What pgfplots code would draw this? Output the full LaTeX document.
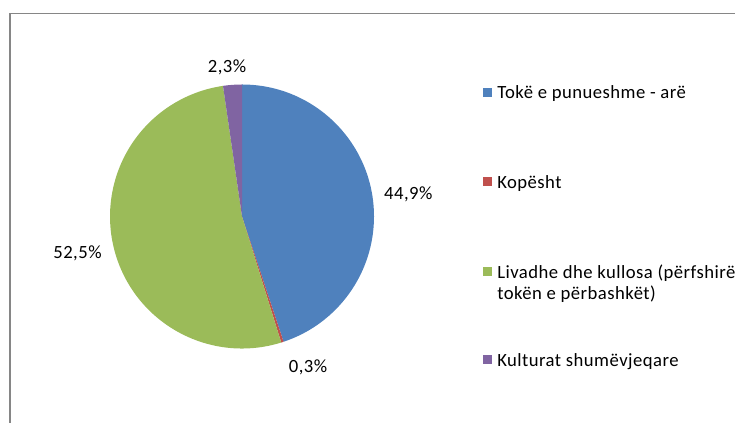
\documentclass[border=0pt]{standalone}
\usepackage{pgfplots}
\pgfplotsset{compat=1.18}
\usepackage{pgfplotstable}
\usepackage{fontspec}
\setmainfont{Carlito}[LetterSpace=2.5]

\definecolor{pieblue}{HTML}{4F81BD}
\definecolor{piered}{HTML}{C0504D}
\definecolor{piegreen}{HTML}{9BBB59}
\definecolor{piepurple}{HTML}{8064A2}
\definecolor{framegray}{HTML}{868686}

\pgfplotstableread{
label value
Toke 44.9
Kopesht 0.3
Livadhe 52.5
Kultura 2.3
}\piedata

\begin{document}
\begin{tikzpicture}
\fontsize{14}{16.3}\selectfont

% slice angles, clockwise from the top
\pgfplotstablegetelem{0}{value}\of\piedata \let\vA\pgfplotsretval
\pgfplotstablegetelem{1}{value}\of\piedata \let\vB\pgfplotsretval
\pgfplotstablegetelem{2}{value}\of\piedata \let\vC\pgfplotsretval
\pgfplotstablegetelem{3}{value}\of\piedata \let\vD\pgfplotsretval
\pgfmathsetmacro\aA{90}
\pgfmathsetmacro\aB{\aA-3.6*\vA}
\pgfmathsetmacro\aC{\aB-3.6*\vB}
\pgfmathsetmacro\aD{\aC-3.6*\vC}
\pgfmathsetmacro\aE{\aD-3.6*\vD}

\begin{axis}[
  at={(0,0)}, anchor=south west,
  scale only axis,
  x=0.75pt, y=0.75pt,
  xmin=-242, xmax=493,
  ymin=-206.5, ymax=216.5,
  hide axis, clip=false,
]
  \fill[pieblue]   (axis cs:0,0) -- (axis cs:{132*cos(\aA)},{132*sin(\aA)}) arc[start angle=\aA, end angle=\aB, radius=99pt] -- cycle;
  \fill[piered]    (axis cs:0,0) -- (axis cs:{132*cos(\aB)},{132*sin(\aB)}) arc[start angle=\aB, end angle=\aC, radius=99pt] -- cycle;
  \fill[piegreen]  (axis cs:0,0) -- (axis cs:{132*cos(\aC)},{132*sin(\aC)}) arc[start angle=\aC, end angle=\aD, radius=99pt] -- cycle;
  \fill[piepurple] (axis cs:0,0) -- (axis cs:{132*cos(\aD)},{132*sin(\aD)}) arc[start angle=\aD, end angle=\aE, radius=99pt] -- cycle;

  \node[anchor=base, inner sep=0] at (axis cs:166.3,16.5) {44,9\%};
  \node[anchor=base, inner sep=0] at (axis cs:66,-156.2) {0,3\%};
  \node[anchor=base, inner sep=0] at (axis cs:-164.5,-42.5) {52,5\%};
  \node[anchor=base, inner sep=0] at (axis cs:-15,144.2) {2,3\%};
\end{axis}

% frame and legend, in pixel units of the reference
\begin{scope}[x=0.75pt, y=-0.75pt, shift={(0,317.25pt)}]
  \useasboundingbox (0,0) rectangle (735,423);
  \draw[framegray, line width=1pt] (10,423) -- (10,13.5) -- (735,13.5);

  \fill[pieblue]   (482.5,88) rectangle (491.5,97);
  \node[anchor=base west, inner sep=0] at (497,98.3) {Tokë e punueshme - arë};
  \fill[piered]    (482.5,177) rectangle (491.5,186);
  \node[anchor=base west, inner sep=0] at (497,188.3) {Kopësht};
  \fill[piegreen]  (482.5,267) rectangle (491.5,276);
  \node[anchor=base west, inner sep=0] at (497,278.3) {Livadhe dhe kullosa (përfshirë};
  \node[anchor=base west, inner sep=0] at (497,300) {tokën e përbashkët)};
  \fill[piepurple] (482.5,355) rectangle (491.5,364);
  \node[anchor=base west, inner sep=0] at (497,366.7) {Kulturat shumëvjeqare};
\end{scope}
\end{tikzpicture}
\end{document}
